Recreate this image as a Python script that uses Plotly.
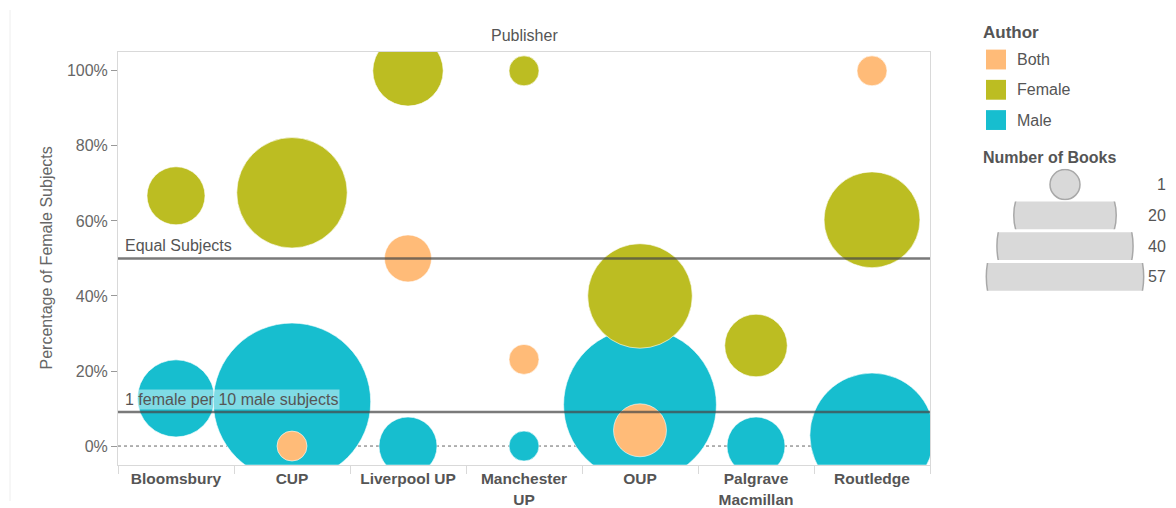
import plotly.graph_objects as go

W, H = 1176, 508

PUBLISHERS = ["Bloomsbury", "CUP", "Liverpool UP", "Manchester UP", "OUP",
              "Palgrave Macmillan", "Routledge"]
PUBLISHER_LABELS = ["Bloomsbury", "CUP", "Liverpool UP", "Manchester<br>UP", "OUP",
                    "Palgrave<br>Macmillan", "Routledge"]

# percentage of female subjects / number of books, per author group
male_pct = [12.7, 11.8, 0, 0, 11.0, 0, 2.9]
male_books = [10, 57, 5, 1, 53, 5, 32]
female_pct = [66.7, 67.5, 100, 100, 40, 26.8, 60.3]
female_books = [5, 24, 8, 1, 21, 6, 17]
both_pct = [None, 0, 50, 23.1, 4.2, None, 100]
both_books = [None, 1, 3, 1, 4, None, 1]

Y_TICKS = [0, 20, 40, 60, 80, 100]
Y_TICK_LABELS = ["0%", "20%", "40%", "60%", "80%", "100%"]

AUTHORS = ["Both", "Female", "Male"]
AUTHOR_COLORS = {"Both": "#ffbb78", "Female": "#bcbd22", "Male": "#17becf"}

SIZE_LEGEND = [1, 20, 40, 57]
EQUAL_LINE = 50
ONE_IN_TEN_LINE = 100 / 11

FONT = "Liberation Sans, Arial, sans-serif"
TXT = "#555555"


def px(x):
    return x / W


def py(y):
    return 1 - y / H


def bubble(n):
    # tableau-ish size scale: 1 book -> 30px, 57 books -> ~157px
    return 30 * n ** 0.41 if n else 0


fig = go.Figure()

series = [("Male", male_pct, male_books),
          ("Female", female_pct, female_books),
          ("Both", both_pct, both_books)]
for name, pct, books in series:
    fig.add_trace(go.Scatter(
        x=PUBLISHERS, y=pct, mode="markers", name=name, showlegend=False,
        customdata=books,
        marker=dict(size=[bubble(b) for b in books], color=AUTHOR_COLORS[name],
                    opacity=1, line=dict(color="white", width=0.6)),
        hovertemplate="%{x}<br>" + name + ": %{y:.1f}%<br>%{customdata} books<extra></extra>",
    ))

fig.update_layout(
    width=W, height=H,
    margin=dict(l=0, r=0, t=0, b=0),
    paper_bgcolor="white", plot_bgcolor="white",
    font=dict(family=FONT, size=16, color=TXT),
    xaxis=dict(domain=[px(118), px(930)], type="category",
               categoryorder="array", categoryarray=PUBLISHERS,
               tickmode="array", tickvals=PUBLISHERS, ticktext=PUBLISHER_LABELS,
               tickson="boundaries", ticks="outside", ticklen=8, tickcolor="#d9d9d9",
               tickfont=dict(size=15.5, color=TXT, weight="bold"),
               showline=True, linecolor="#d9d9d9", mirror=True, showgrid=False,
               zeroline=False, range=[-0.5, 6.5], fixedrange=True),
    yaxis=dict(domain=[py(468.5), py(52.5)], range=[-5, 105],
               tickmode="array", tickvals=Y_TICKS, ticktext=Y_TICK_LABELS,
               ticks="outside", ticklen=6, tickcolor="#999999",
               tickfont=dict(size=16, color="#666666"),
               showline=True, linecolor="#d9d9d9", mirror=True, showgrid=False,
               zeroline=False, fixedrange=True),
)

shapes = []
# zero baseline (dotted, behind bubbles)
shapes.append(dict(type="line", xref="x domain", yref="y", x0=0, x1=1, y0=0, y1=0,
                   line=dict(color="#666666", width=1, dash="dot"), layer="below"))
# reference lines
for yv in [EQUAL_LINE, ONE_IN_TEN_LINE]:
    shapes.append(dict(type="line", xref="x domain", yref="y", x0=0, x1=1, y0=yv, y1=yv,
                       line=dict(color="rgba(70,70,70,0.72)", width=2.5), layer="above"))
# faint outer frame line on the left
shapes.append(dict(type="line", xref="paper", yref="paper", x0=px(10), x1=px(10),
                   y0=py(10), y1=py(505), line=dict(color="#eeeeee", width=1)))

annotations = [
    dict(text="Publisher", xref="x domain", yref="paper", x=0.5, y=py(36),
         xanchor="center", yanchor="middle", showarrow=False,
         font=dict(size=16, color=TXT)),
    dict(text="Percentage of Female Subjects", xref="paper", yref="y domain",
         x=px(46), y=0.5, xanchor="center", yanchor="middle", textangle=-90,
         showarrow=False, font=dict(size=16, color="#666666")),
    dict(text="Equal Subjects", xref="x domain", yref="y", x=0, y=EQUAL_LINE,
         xanchor="left", yanchor="bottom", xshift=5, yshift=2, showarrow=False,
         font=dict(size=16, color=TXT)),
    dict(text="1 female per 10 male subjects", xref="x domain", yref="y", x=0,
         y=ONE_IN_TEN_LINE, xanchor="left", yanchor="bottom", xshift=5, yshift=2,
         showarrow=False, bgcolor="rgba(255,255,255,0.45)", borderpad=1,
         font=dict(size=16, color=TXT)),
    dict(text="<b>Author</b>", xref="paper", yref="paper", x=px(981), y=py(33),
         xanchor="left", yanchor="middle", showarrow=False, font=dict(size=17, color=TXT)),
    dict(text="<b>Number of Books</b>", xref="paper", yref="paper", x=px(981), y=py(159),
         xanchor="left", yanchor="middle", showarrow=False, font=dict(size=16, color=TXT)),
]

# author colour legend
for i, name in enumerate(AUTHORS):
    yc = 60 + i * 30.5
    shapes.append(dict(type="rect", xref="paper", yref="paper",
                       x0=px(986), x1=px(1006), y0=py(yc + 10), y1=py(yc - 10),
                       fillcolor=AUTHOR_COLORS[name], line=dict(width=0)))
    annotations.append(dict(text=name, xref="paper", yref="paper", x=px(1015), y=py(yc),
                            xanchor="left", yanchor="middle", showarrow=False,
                            font=dict(size=16, color=TXT)))

# size legend: one clipped bubble per band, each in its own tiny subplot
bands = [(170, 202), (203, 231), (234, 262), (265, 293)]
for k, (n, (top, bot)) in enumerate(zip(SIZE_LEGEND, bands), start=2):
    fig.add_trace(go.Scatter(
        x=[0], y=[0], mode="markers", showlegend=False, hoverinfo="skip",
        xaxis=f"x{k}", yaxis=f"y{k}", cliponaxis=True,
        marker=dict(size=bubble(n), color="#d9d9d9", line=dict(color="#a8a8a8", width=1.5)),
    ))
    fig.layout[f"xaxis{k}"] = dict(domain=[px(984), px(1146)], range=[-1, 1], visible=False,
                                   fixedrange=True, anchor=f"y{k}")
    fig.layout[f"yaxis{k}"] = dict(domain=[py(bot), py(top)], range=[-1, 1], visible=False,
                                   fixedrange=True, anchor=f"x{k}")
    annotations.append(dict(text=str(n), xref="paper", yref="paper", x=px(1168),
                            y=py((top + bot) / 2), xanchor="right", yanchor="middle",
                            showarrow=False, font=dict(size=16, color=TXT)))

fig.update_layout(shapes=shapes, annotations=annotations)
fig.write_html("out.html", config={"displayModeBar": False},
               post_script="document.body.style.margin='0';")
